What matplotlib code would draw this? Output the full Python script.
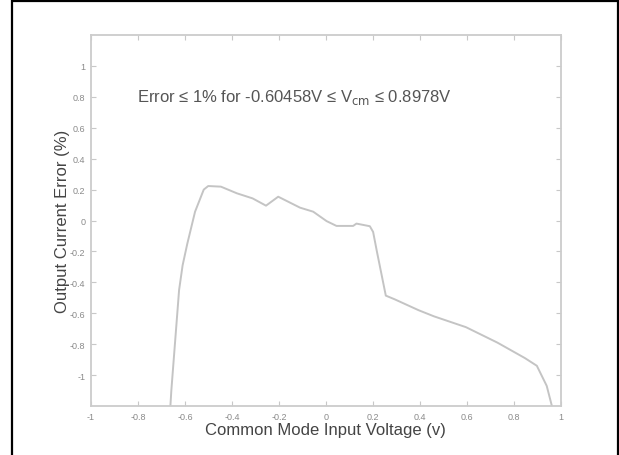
import matplotlib.pyplot as plt
from matplotlib.patches import Rectangle

# data
v_cm = [-0.662, -0.658, -0.625, -0.61, -0.59, -0.557, -0.52, -0.501, -0.447,
        -0.379, -0.312, -0.255, -0.203, -0.11, -0.054, 0.003, 0.045, 0.116,
        0.13, 0.187, 0.201, 0.217, 0.255, 0.293, 0.394, 0.46, 0.596, 0.73,
        0.847, 0.898, 0.94, 0.962]
err = [-1.2, -1.1, -0.45, -0.29, -0.15, 0.057, 0.2, 0.223, 0.219,
       0.176, 0.143, 0.096, 0.154, 0.083, 0.057, -0.004, -0.035, -0.035,
       -0.02, -0.037, -0.074, -0.2, -0.486, -0.51, -0.58, -0.62, -0.69, -0.79,
       -0.89, -0.94, -1.07, -1.2]
xticks = [-1, -0.8, -0.6, -0.4, -0.2, 0, 0.2, 0.4, 0.6, 0.8, 1]
yticks = [-1, -0.8, -0.6, -0.4, -0.2, 0, 0.2, 0.4, 0.6, 0.8, 1]

plt.rcParams['font.family'] = ['Liberation Sans', 'DejaVu Sans']

fig = plt.figure(figsize=(6.19, 4.56), dpi=100, facecolor='white')
# black frame round the figure
fig.patches.append(Rectangle((0.02, -0.02), 0.978, 1.015, transform=fig.transFigure,
                             fill=False, edgecolor='black', lw=1.6))

ax = fig.add_axes([0.147, 0.1075, 0.759, 0.8135])
ax.plot(v_cm, err, color='#c4c4c4', lw=1.4)

ax.set_xlim(-1, 1)
ax.set_ylim(-1.2, 1.2)
ax.set_xticks(xticks)
ax.set_yticks(yticks)
ax.set_xticklabels([f'{t:g}' for t in xticks])
ax.set_yticklabels([f'{t:g}' for t in yticks])
ax.tick_params(direction='in', length=3.5, width=0.8, color='#c8c8c8',
               labelsize=6.5, labelcolor='#8a8a8a', top=True, right=True, pad=4)
for s in ax.spines.values():
    s.set_color('#cccccc')
    s.set_linewidth(1.3)

ax.set_xlabel('Common Mode Input Voltage (v)', fontsize=12, color='#444444', labelpad=1)
ax.set_ylabel('Output Current Error (%)', fontsize=12, color='#444444', labelpad=0)

ax.text(-0.805, 0.8, 'Error ≤ 1% for -0.60458V ≤ V$_{\\rm cm}$ ≤ 0.8978V',
        fontsize=12, color='#555555', va='center', ha='left')

fig.savefig('out.png', dpi=100)
